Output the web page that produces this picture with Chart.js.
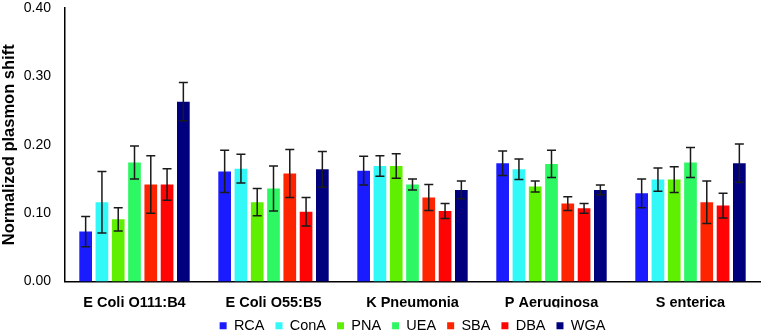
<!DOCTYPE html>
<html><head><meta charset="utf-8">
<script src="https://cdn.jsdelivr.net/npm/chart.js@4"></script>
<style>html,body{margin:0;padding:0;background:#fff}#wrap{width:762px;height:332px}</style>
</head><body><div id="wrap"><canvas id="c"></canvas></div>
<script>
const categories = ["E Coli O111:B4","E Coli O55:B5","K Pneumonia","P Aeruginosa","S enterica"];
const seriesNames = ["RCA","ConA","PNA","UEA","SBA","DBA","WGA"];
const seriesColors = ["#1a1cff","#33f8f8","#5ef000","#2ef764","#ff2400","#ff0404","#00007f"];
const RCA  = [0.073,0.161,0.162,0.173,0.129];
const ConA = [0.116,0.165,0.169,0.164,0.149];
const PNA  = [0.091,0.116,0.169,0.139,0.149];
const UEA  = [0.174,0.136,0.142,0.172,0.174];
const SBA  = [0.142,0.158,0.123,0.114,0.116];
const DBA  = [0.142,0.102,0.103,0.107,0.111];
const WGA  = [0.263,0.164,0.134,0.134,0.173];
const errRCA  = [0.022,0.031,0.021,0.018,0.021];
const errConA = [0.045,0.021,0.015,0.015,0.017];
const errPNA  = [0.017,0.020,0.018,0.008,0.019];
const errUEA  = [0.024,0.033,0.008,0.020,0.022];
const errSBA  = [0.042,0.035,0.019,0.010,0.031];
const errDBA  = [0.023,0.021,0.011,0.007,0.018];
const errWGA  = [0.028,0.026,0.013,0.007,0.028];
const yTicks = [0.00,0.10,0.20,0.30,0.40];

const values = [RCA,ConA,PNA,UEA,SBA,DBA,WGA];
const errors = [errRCA,errConA,errPNA,errUEA,errSBA,errDBA,errWGA];
const FONT = 'Liberation Sans, Arial, sans-serif';

const errorBars = {
  id:'errorBars',
  afterDatasetsDraw(chart){
    const ctx = chart.ctx, y = chart.scales.y;
    ctx.save();
    ctx.strokeStyle = '#1a1a1a';
    ctx.lineWidth = 1.5;
    chart.data.datasets.forEach((ds,i)=>{
      const meta = chart.getDatasetMeta(i);
      meta.data.forEach((bar,j)=>{
        const v = ds.data[j], e = errors[i][j];
        const x = bar.x;
        const yt = y.getPixelForValue(v+e), yb = y.getPixelForValue(v-e);
        ctx.beginPath();
        ctx.moveTo(x,yt); ctx.lineTo(x,yb);
        ctx.moveTo(x-4.5,yt); ctx.lineTo(x+4.5,yt);
        ctx.moveTo(x-4.5,yb); ctx.lineTo(x+4.5,yb);
        ctx.stroke();
      });
    });
    ctx.restore();
  }
};

new Chart(document.getElementById('c'),{
  type:'bar',
  data:{
    labels:categories,
    datasets:seriesNames.map((n,i)=>({label:n,data:values[i],backgroundColor:seriesColors[i],borderWidth:0}))
  },
  options:{
    responsive:true,maintainAspectRatio:false,animation:false,
    layout:{padding:{top:0,right:2,left:0,bottom:-11}},
    datasets:{bar:{categoryPercentage:0.82,barPercentage:0.78}},
    plugins:{
      legend:{position:'bottom',fullSize:false,
        labels:{boxWidth:7,boxHeight:7,padding:11,color:'#000',font:{family:FONT,size:14.5}}},
      tooltip:{enabled:false}
    },
    scales:{
      x:{grid:{display:false,drawTicks:false},border:{color:'#000',width:1.5},
        afterFit(s){s.height=26;s.paddingLeft=0;s.paddingRight=0;},
        ticks:{color:'#000',padding:13,font:{family:FONT,size:14.5,weight:'bold'}}},
      y:{min:0,max:0.4,grid:{display:false,drawTicks:false},border:{color:'#000',width:1.5},
        afterFit(s){s.width=65;s.paddingTop=8;s.paddingBottom=0;},
        afterBuildTicks(s){s.ticks=yTicks.map(v=>({value:v}));},
        ticks:{color:'#000',padding:14,font:{family:FONT,size:14},callback:v=>Number(v).toFixed(2)},
        title:{display:true,text:'Normalized plasmon shift',color:'#000',padding:{top:0,bottom:4},font:{family:FONT,size:16.5,weight:'bold'}}}
    }
  },
  plugins:[errorBars]
});
</script></body></html>
